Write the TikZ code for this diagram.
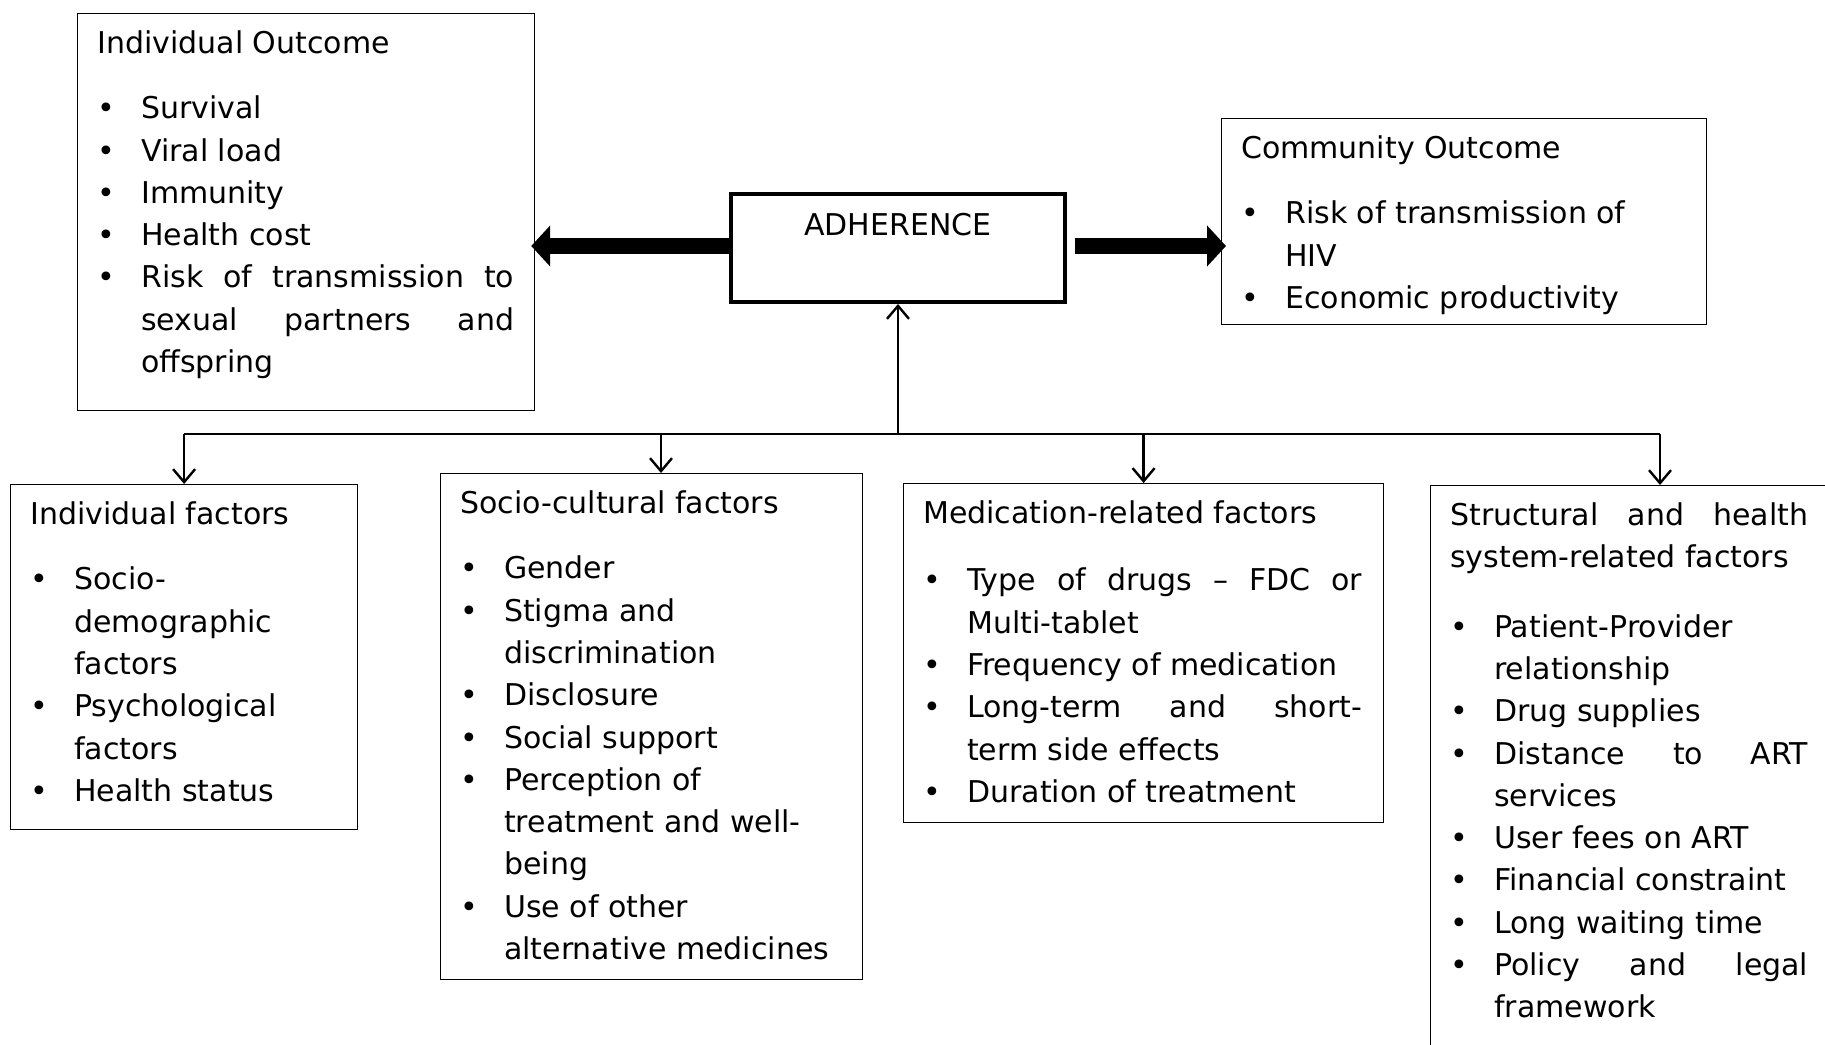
\documentclass[tikz,border=0pt]{standalone}
\usepackage{fontspec}
\setmainfont{DejaVu Sans}
\usetikzlibrary{arrows.meta, positioning, calc}

\newcommand{\bul}{\makebox[44pt][l]{\textbullet}}
\newcommand{\ind}{\hspace*{44pt}}

\tikzset{
  frame/.style={draw, line width=1.2pt, anchor=north west, inner sep=0pt},
  boxtext/.style={anchor=north west, inner sep=0pt, align=left},
  fatarrow/.style={line width=16pt, -{Triangle[length=19pt, width=40pt]}},
  thinarrow/.style={line width=2.4pt, -{Straight Barb[length=13pt, width=22pt]}},
}

\begin{document}
\begin{tikzpicture}[x=1pt, y=-1pt, font=\fontsize{30pt}{42.3pt}\selectfont]
\useasboundingbox (0,0) rectangle (1825,1044);
\fill[white] (0,0) rectangle (1825,1044);
\clip (0,0) rectangle (1825,1044);

% outcomes
\node[frame, minimum width=457pt, minimum height=397pt] (io) at (77,13) {};
\node[boxtext] (iotx) at ([shift={(20,17.5)}]io.north west) {Individual Outcome\\[23pt]
\bul Survival\\
\bul Viral load\\
\bul Immunity\\
\bul Health cost\\
\bul\makebox[373pt][s]{Risk of transmission to}\\
\ind\makebox[373pt][s]{sexual partners and}\\
\ind offspring};

\node[frame, minimum width=485pt, minimum height=206pt] (co) at (1221,118) {};
\node[boxtext] (cotx) at ([shift={(20,17.5)}]co.north west) {Community Outcome\\[23pt]
\bul Risk of transmission of\\
\ind HIV\\
\bul Economic productivity};

\node[frame, line width=4pt, minimum width=334pt, minimum height=108pt] (adh) at (729,192) {};
\node (adhtx) at ([yshift=-33pt]adh.north) {ADHERENCE};

% factors
\node[frame, minimum width=347pt, minimum height=345pt] (if) at (10,484) {};
\node[boxtext] (iftx) at ([shift={(20,17.5)}]if.north west) {Individual factors\\[23pt]
\bul Socio-\\
\ind demographic\\
\ind factors\\
\bul Psychological\\
\ind factors\\
\bul Health status};

\node[frame, minimum width=422pt, minimum height=506pt] (sc) at (440,473) {};
\node[boxtext] (sctx) at ([shift={(20,17.5)}]sc.north west) {Socio-cultural factors\\[23pt]
\bul Gender\\
\bul Stigma and\\
\ind discrimination\\
\bul Disclosure\\
\bul Social support\\
\bul Perception of\\
\ind treatment and well-\\
\ind being\\
\bul Use of other\\
\ind alternative medicines};

\node[frame, minimum width=480pt, minimum height=339pt] (med) at (903,483) {};
\node[boxtext] (medtx) at ([shift={(20,17.5)}]med.north west) {Medication-related factors\\[25pt]
\bul\makebox[395pt][s]{Type of drugs \textendash{} FDC or}\\
\ind Multi-tablet\\
\bul Frequency of medication\\
\bul\makebox[395pt][s]{Long-term and short-}\\
\ind term side effects\\
\bul Duration of treatment};

\node[frame, minimum width=400pt, minimum height=600pt] (st) at (1430,485) {};
\node[boxtext] (sttx) at ([shift={(20,17.5)}]st.north west) {\makebox[358pt][s]{Structural and health}\\
system-related factors\\[27pt]
\bul Patient-Provider\\
\ind relationship\\
\bul Drug supplies\\
\bul\makebox[314pt][s]{Distance to ART}\\
\ind services\\
\bul User fees on ART\\
\bul Financial constraint\\
\bul Long waiting time\\
\bul\makebox[314pt][s]{Policy and legal}\\
\ind framework};

% connectors
\coordinate (bus) at (892,434);
\coordinate (busS) at (661,434);
\coordinate (busR) at (1660,434);
\draw[fatarrow, shorten >=-4pt] ([yshift=2pt]adh.west) -- ([yshift=2pt]adh.west -| io.east);
\draw[fatarrow, shorten <=8pt, shorten >=-5pt] ([yshift=2pt]adh.east) -- ([yshift=2pt]adh.east -| co.west);
\draw[thinarrow] (adh.south |- bus) -- (adh.south);
\draw[line width=2.4pt] (if.north |- bus) -- (busR);
\foreach \b in {if, med}
  \draw[thinarrow] (\b.north |- bus) -- (\b.north);
\draw[thinarrow] (busS) -- (busS |- sc.north);
\draw[thinarrow] (busR) -- (busR |- st.north);
\end{tikzpicture}
\end{document}
